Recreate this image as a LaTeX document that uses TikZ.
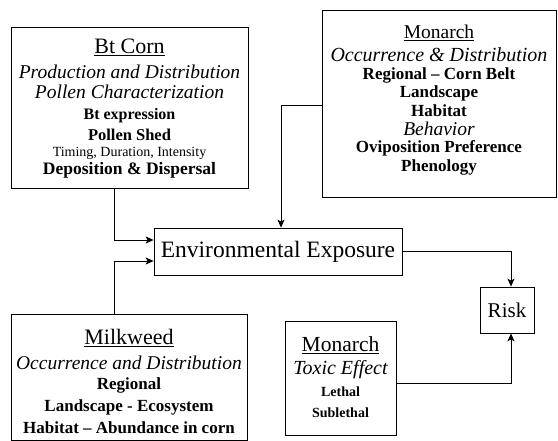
\documentclass[tikz,border=0pt]{standalone}
\usepackage{fontspec}
\setmainfont{Liberation Serif}
\usetikzlibrary{arrows.meta}

\tikzset{
    box/.style={draw, line width=0.75pt, inner sep=0pt},
    ttl/.style={font=\fontsize{22}{24}\selectfont},
    itl/.style={font=\itshape\fontsize{#1}{#1}\selectfont},
    itl/.default=19.5,
    bld/.style={font=\bfseries\fontsize{#1}{#1}\selectfont},
    bld/.default=17,
    sml/.style={font=\fontsize{14}{14}\selectfont},
    arr/.style={-{Stealth[length=8pt,width=7pt,inset=2pt]}, line width=0.75pt},
}

\begin{document}
\begin{tikzpicture}[x=1pt,y=-1pt]

    \useasboundingbox (0,0) rectangle (558,441);

    % boxes
    \node[box, minimum width=237, minimum height=161] (btcorn) at (129.5,107.5) {};
    \node[box, minimum width=234, minimum height=187] (montop) at (439,103.5) {};
    \node[box, minimum width=248, minimum height=47] (env) at (278,251.5)
        {\fontsize{23.5}{24}\selectfont Environmental Exposure};
    \node[box, minimum width=236, minimum height=126] (milk) at (129,377) {};
    \node[box, minimum width=111, minimum height=114] (monbot) at (340.5,378) {};
    \node[box, minimum width=54, minimum height=46] (risk) at (507,310)
        {\fontsize{21}{22}\selectfont Risk};

    % Bt corn
    \node[ttl] (bt1) at (129.5,47) {\underline{Bt Corn}};
    \node[itl] (bt2) at (129.5,72) {Production and Distribution};
    \node[itl] (bt3) at (129.5,92) {Pollen Characterization};
    \node[bld=16] (bt4) at (129.5,116) {Bt expression};
    \node[bld=16.5] (bt5) at (129.5,135) {Pollen Shed};
    \node[sml] (bt6) at (129.5,153) {Timing, Duration, Intensity};
    \node[bld=17.5] (bt7) at (129.5,170) {Deposition \& Dispersal};

    % monarch, exposure
    \node[ttl, font=\fontsize{19.5}{22}\selectfont] (mt1) at (439,33) {\underline{Monarch}};
    \node[itl=20] (mt2) at (439,55) {Occurrence \& Distribution};
    \node[bld] (mt3) at (439,75) {Regional -- Corn Belt};
    \node[bld] (mt4) at (439,93) {Landscape};
    \node[bld] (mt5) at (439,111) {Habitat};
    \node[itl] (mt6) at (439,129) {Behavior};
    \node[bld] (mt7) at (439,148) {Oviposition Preference};
    \node[bld] (mt8) at (439,167) {Phenology};

    % milkweed
    \node[ttl] (mw1) at (129,338) {\underline{Milkweed}};
    \node[itl] (mw2) at (129,363) {Occurrence and Distribution};
    \node[bld] (mw3) at (129,385) {Regional};
    \node[bld] (mw4) at (129,407) {Landscape - Ecosystem};
    \node[bld] (mw5) at (129,428) {Habitat -- Abundance in corn};

    % monarch, toxicity
    \node[ttl, font=\fontsize{21.5}{22}\selectfont] (mb1) at (340.5,345) {\underline{Monarch}};
    \node[itl=20] (mb2) at (340.5,370) {Toxic Effect};
    \node[bld=14] (mb3) at (340.5,392) {Lethal};
    \node[bld=14] (mb4) at (340.5,413) {Sublethal};

    % connectors
    \draw[arr] ([xshift=-15pt]btcorn.south) |- ([yshift=11.5pt]env.west);
    \draw[arr] ([xshift=-14.5pt]milk.north) |- ([yshift=-9.5pt]env.west);
    \draw[arr] ([yshift=-1.5pt]montop.west) -| ([xshift=3pt]env.north);
    \draw[arr] (env.east) -| ([xshift=4pt]risk.north);
    \draw[arr] ([yshift=-5pt]monbot.east) -| ([xshift=4pt]risk.south);

\end{tikzpicture}
\end{document}
